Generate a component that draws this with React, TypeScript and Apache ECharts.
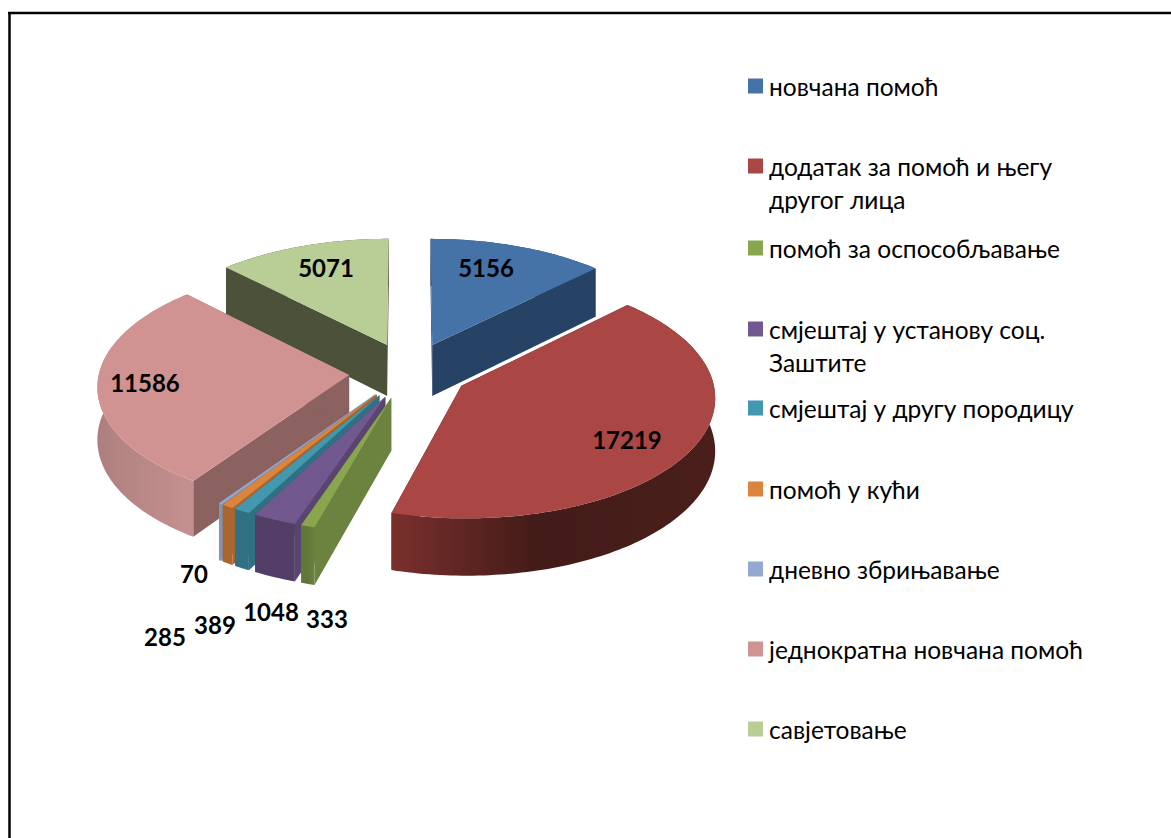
import React, { useEffect, useRef } from "react";
import * as echarts from "echarts";

const names = [
  "новчана помоћ",
  "додатак за помоћ и његу\nдругог лица",
  "помоћ за оспособљавање",
  "смјештај у установу соц.\nЗаштите",
  "смјештај у другу породицу",
  "помоћ у кући",
  "дневно збрињавање",
  "једнократна новчана помоћ",
  "савјетовање",
];
const values = [5156, 17219, 333, 1048, 389, 285, 70, 11586, 5071];
const topColors = ["#4572A7", "#AA4643", "#89A54E", "#71588F", "#4198AF", "#DB843D", "#93A9CF", "#D19392", "#B9CD96"];
const wallColors = ["#264264", "#4a1e1b", "#6B833F", "#5A4570", "#2F7082", "#A9652E", "#7F94B8", "#8B625F", "#4B5239"];
const rimLeft = ["#264264", "#7A302D", "#5F7738", "#523E66", "#2F7082", "#A9652E", "#7F94B8", "#AC7F7E", "#4B5239"];
const rimMid = ["#264264", "#431B18", "#5F7738", "#523E66", "#2F7082", "#A9652E", "#7F94B8", "#B88886", "#4B5239"];
const rimRight = ["#264264", "#4A1F1B", "#6B833F", "#523E66", "#2F7082", "#A9652E", "#7F94B8", "#C69090", "#4B5239"];
const drawOrder = [0, 8, 7, 6, 5, 4, 3, 2, 1];
const labelCenters = [[486, 267], [627, 439], [327, 618], [271, 611], [215, 624], [165, 636], [194, 573], [145, 382], [326, 267]];
const legendCenters = [86, 166, 248, 329, 408, 489, 569, 649, 729];
const sliceNudge = [[1, 0], [1, 1], [0, 0], [0, 0], [0, 0], [0, 0], [0, 0], [-1, 2], [0, 0]];

const CX = 409;
const CY = 370.5;
const R = 250;
const TILT = 0.476;
const PERSP = 0.083;
const EXPLODE = 59;
const DEPTH = 52;
const LINE = 33;
const FONT = "Lato, 'Open Sans', 'Noto Sans', sans-serif";

const total = values.reduce((a, b) => a + b, 0);

function project(mid: number, a: number, r: number, down: number) {
  const X = EXPLODE * Math.sin(mid) + r * Math.sin(a);
  const Z = EXPLODE * Math.cos(mid) + r * Math.cos(a);
  const s = 1 / (1 + (PERSP * Z) / R);
  return [CX + X * s, CY - Z * TILT * s + down * DEPTH * s];
}

function makeRender(index: number) {
  return (_params: any, api: any) => {
    const value = api.value(0);
    const before = values.slice(0, index).reduce((a, b) => a + b, 0);
    const a0 = (before / total) * Math.PI * 2;
    const a1 = ((before + value) / total) * Math.PI * 2;
    const mid = (a0 + a1) / 2;
    const steps = Math.max(4, Math.ceil((a1 - a0) / 0.02));
    const arc = (down: number) => {
      const pts: number[][] = [];
      for (let i = 0; i <= steps; i++) pts.push(project(mid, a0 + ((a1 - a0) * i) / steps, R, down));
      return pts;
    };
    const wall = (a: number) => [project(mid, a, 0, 0), project(mid, a, R, 0), project(mid, a, R, 1), project(mid, a, 0, 1)];
    const gradient = new echarts.graphic.LinearGradient(0, 0, 1, 0, [
      { offset: 0, color: rimLeft[index] },
      { offset: 0.45, color: rimMid[index] },
      { offset: 1, color: rimRight[index] },
    ]);
    const [lx, ly] = labelCenters[index];
    const [nx, ny] = sliceNudge[index];
    return {
      type: "group",
      children: [
        {
          type: "group",
          x: nx,
          y: ny,
          children: [
            { type: "polygon", shape: { points: wall(a0) }, style: { fill: wallColors[index] } },
            { type: "polygon", shape: { points: wall(a1) }, style: { fill: wallColors[index] } },
            { type: "polygon", shape: { points: [...arc(0), ...arc(1).reverse()] }, style: { fill: gradient } },
            { type: "polygon", shape: { points: [project(mid, a0, 0, 0), ...arc(0)] }, style: { fill: topColors[index] } },
          ],
        },
        {
          type: "text",
          z2: 10,
          style: {
            text: String(value),
            x: lx,
            y: ly,
            align: "center",
            verticalAlign: "middle",
            fill: "#000",
            font: `bold 24px ${FONT}`,
          },
        },
      ],
    };
  };
}

export default function App() {
  const ref = useRef<HTMLDivElement>(null);
  useEffect(() => {
    const chart = echarts.init(ref.current!, undefined, { renderer: "svg" });
    chart.setOption({
      animation: false,
      backgroundColor: "#fff",
      graphic: [
        { type: "line", shape: { x1: 8, y1: 13, x2: 1171, y2: 13 }, style: { stroke: "#000", lineWidth: 2.5 } },
        { type: "line", shape: { x1: 9.5, y1: 12, x2: 9.5, y2: 838 }, style: { stroke: "#000", lineWidth: 2.5 } },
      ],
      legend: names.map((name, i) => {
        const two = name.includes("\n");
        return {
          left: 748,
          top: legendCenters[i] - (two ? (3 * LINE) / 2 : LINE / 2) - 4,
          padding: 0,
          orient: "vertical",
          selectedMode: false,
          itemWidth: 15,
          itemHeight: 15,
          data: [{ name, icon: "rect", itemStyle: { color: topColors[i] } }],
          formatter: (n: string) => (n.includes("\n") ? "\n" + n : n),
          textStyle: { fontFamily: FONT, fontSize: 24.5, lineHeight: LINE, color: "#000", padding: [0, 0, 8, 1] },
        };
      }),
      series: names.map((name, i) => ({
        type: "custom",
        name,
        coordinateSystem: "none",
        z: 2 + drawOrder.indexOf(i),
        silent: true,
        itemStyle: { color: topColors[i] },
        data: [[values[i]]],
        renderItem: makeRender(i),
      })),
    });
    return () => chart.dispose();
  }, []);
  return <div ref={ref} style={{ position: "fixed", left: 0, top: 0, width: 1171, height: 838 }} />;
}
